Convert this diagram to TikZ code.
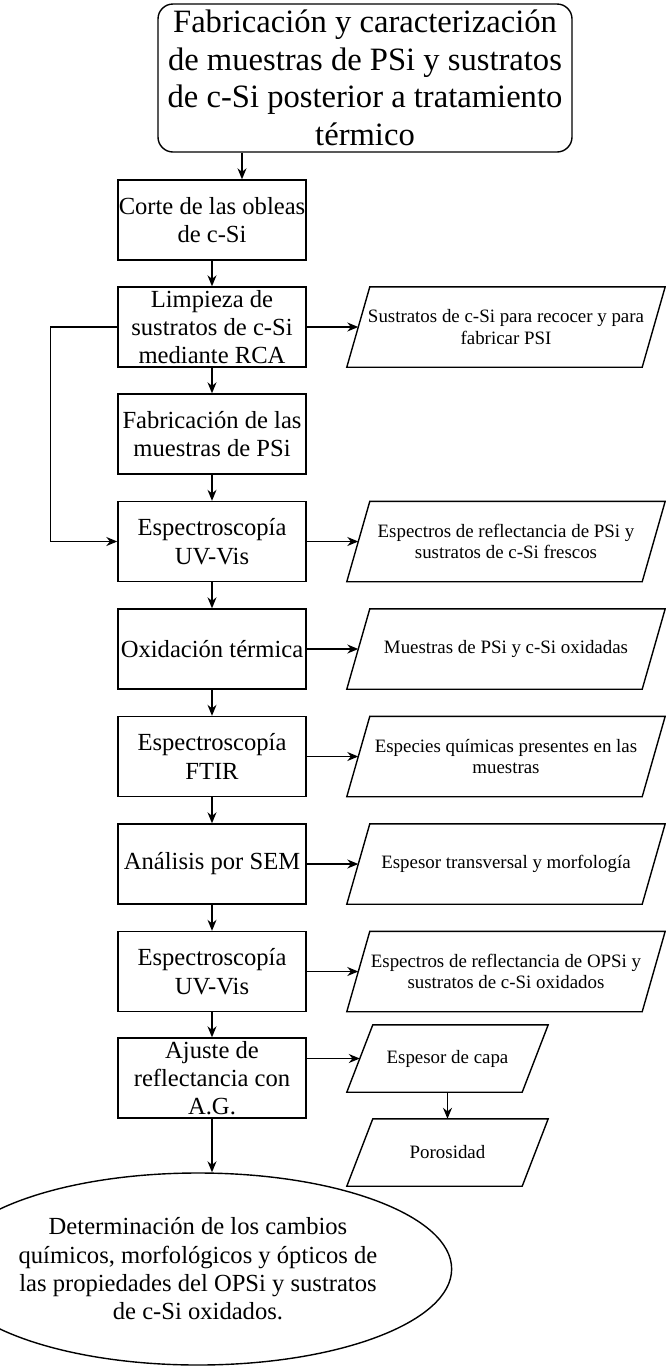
\documentclass[tikz,border=0pt]{standalone}
\usepackage{fontspec}
\setmainfont{Liberation Serif}
\usetikzlibrary{arrows.meta,shapes.geometric}

% outline of a slanted (data) box around a plain node
\newcommand{\paral}[2]{%
  \draw[line width=1.4pt] ([xshift=-#2]#1.south west) -- ([xshift=#2]#1.north west)
    -- ([xshift=#2]#1.north east) -- ([xshift=-#2]#1.south east) -- cycle;}

\begin{document}
\begin{tikzpicture}[x=1pt,y=-1pt,
    box/.style = {draw,line width=1.4pt,minimum width=188pt,minimum height=80pt,inner sep=0pt,
                  align=center,font=\fontsize{24.6}{28.3}\selectfont},
    result/.style = {minimum width=295pt,minimum height=80pt,inner sep=0pt,
                  align=center,font=\fontsize{18.9}{21.7}\selectfont},
    small/.style = {result,minimum width=175pt,minimum height=67pt},
    arrow/.style = {line width=1.3pt,-{Stealth[length=11pt,width=9pt]}}]
                    \useasboundingbox (0,0) rectangle (666,1366);

                    % start
                    \node[draw,line width=1.4pt,rounded corners=15pt,minimum width=414pt,minimum height=148pt,
                          inner sep=0pt,align=center,font=\fontsize{32.6}{37.5}\selectfont]
                          (start) at (365,78) {Fabricación y caracterización\\de muestras de PSi y sustratos\\de c-Si posterior a tratamiento\\térmico};

                    % main column
                    \node[box] (corte)  at (212,220)   {Corte de las obleas\\de c-Si};
                    \node[box] (limp)   at (212,327)   {Limpieza de\\sustratos de c-Si\\mediante RCA};
                    \node[box] (fab)    at (212,434)   {Fabricación de las\\muestras de PSi};
                    \node[box] (uv1)    at (212,541.5) {Espectroscopía\\UV-Vis};
                    \node[box] (oxi)    at (212,649)   {Oxidación térmica};
                    \node[box] (ftir)   at (212,756.5) {Espectroscopía\\FTIR};
                    \node[box] (sem)    at (212,864)   {Análisis por SEM};
                    \node[box] (uv2)    at (212,971.5) {Espectroscopía\\UV-Vis};
                    \node[box] (ajuste) at (212,1078)  {Ajuste de\\reflectancia con\\A.G.};

                    % end
                    \node[draw,ellipse,line width=1.4pt,minimum width=376pt,minimum height=192pt,inner sep=0pt,
                          align=center,font=\fontsize{24.6}{28.3}\selectfont]
                          (fin) at (198,1269) {Determinación de los cambios\\químicos, morfológicos y ópticos de\\las propiedades del OPSi y sustratos\\de c-Si oxidados.};

                    % results
                    \node[result] (sust)  at (506,327)   {Sustratos de c-Si para recocer y para\\fabricar PSI};
                    \node[result] (esp1)  at (506,541.5) {Espectros de reflectancia de PSi y\\sustratos de c-Si frescos};
                    \node[result] (mues)  at (506,649)   {Muestras de PSi y c-Si oxidadas};
                    \node[result] (espe)  at (506,756.5) {Especies químicas presentes en las\\muestras};
                    \node[result] (trans) at (506,864)   {Espesor transversal y morfología};
                    \node[result] (esp2)  at (506,971.5) {Espectros de reflectancia de OPSi y\\sustratos de c-Si oxidados};
                    \node[small]  (capa)  at (447.5,1058.5) {Espesor de capa};
                    \node[small]  (poro)  at (447.5,1152.5) {Porosidad};

                    \paral{sust}{11.5pt}
                    \paral{esp1}{11.5pt}
                    \paral{mues}{11.5pt}
                    \paral{espe}{11.5pt}
                    \paral{trans}{11.5pt}
                    \paral{esp2}{11.5pt}
                    \paral{capa}{13pt}
                    \paral{poro}{13pt}

                    % down the column
                    \coordinate (c0) at ([xshift=30pt]corte.north);
                    \draw[arrow] (start.south -| c0) -- (c0);
                    \draw[arrow] (corte) -- (limp);
                    \draw[arrow] (limp) -- (fab);
                    \draw[arrow] (fab) -- (uv1);
                    \draw[arrow] (uv1) -- (oxi);
                    \draw[arrow] (oxi) -- (ftir);
                    \draw[arrow] (ftir) -- (sem);
                    \draw[arrow] (sem) -- (uv2);
                    \draw[arrow] (uv2) -- (ajuste);
                    \draw[arrow] (ajuste.south) -- (ajuste.south |- fin.north);

                    % loop back
                    \draw[arrow] (limp.west) -- ++(-67,0) |- (uv1.west);

                    % to the results
                    \draw[arrow] (limp) -- (sust);
                    \draw[arrow] (uv1) -- (esp1);
                    \draw[arrow] (oxi) -- (mues);
                    \draw[arrow] (ftir) -- (espe);
                    \draw[arrow] (sem) -- (trans);
                    \draw[arrow] (uv2) -- (esp2);
                    \draw[arrow] (ajuste.east |- capa.west) -- (capa.west);
                    \draw[arrow] (capa) -- (poro);

\end{tikzpicture}
\end{document}
